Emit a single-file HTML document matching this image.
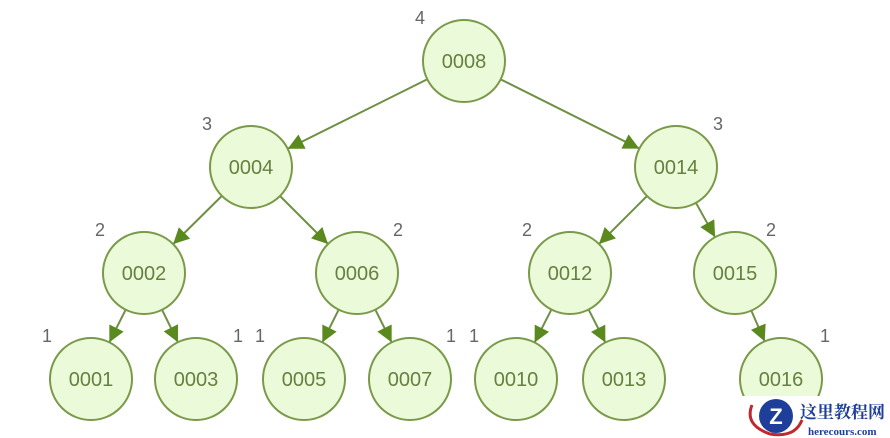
<!DOCTYPE html>
<html><head><meta charset="utf-8"><style>
html,body{margin:0;padding:0;background:#fff;}
svg{display:block;font-family:"Liberation Sans",sans-serif;}
</style></head><body>
<svg id="s" width="890" height="438" viewBox="0 0 890 438" xmlns="http://www.w3.org/2000/svg">
<defs>
<marker id="b" viewBox="0 0 10 10" markerWidth="18" markerHeight="16" refX="10" refY="5" orient="auto" markerUnits="userSpaceOnUse"><path d="M0,0 L10,5 L0,10 Z" fill="#5a8a1e"/></marker></defs>
<g id="g"></g>
</svg>
<script>
var N={"0008":[464,61],"0004":[251,167],"0014":[676,167],"0002":[144,273],"0006":[357,273],"0012":[570,273],"0015":[735,273],
"0001":[91,379],"0003":[196,379],"0005":[304,379],"0007":[410,379],"0010":[516,379],"0013":[624,379],"0016":[781,379]};
var E=[["0008","0004"],["0008","0014"],["0004","0002"],["0004","0006"],["0014","0012"],["0014","0015"],["0002","0001"],["0002","0003"],["0006","0005"],["0006","0007"],["0012","0010"],["0012","0013"],["0015","0016"]];
var L=[["4",420,24],["3",207,130],["3",718,130],["2",100,236],["2",398,236],["2",527,236],["2",771,236],["1",47,342],["1",238,342],["1",260,342],["1",451,342],["1",474,342],["1",825,342]];
var R=41,h="";
E.forEach(function(e){var p=N[e[0]],c=N[e[1]],dx=c[0]-p[0],dy=c[1]-p[1],d=Math.hypot(dx,dy),ux=dx/d,uy=dy/d;
h+='<line x1="'+(p[0]+ux*R)+'" y1="'+(p[1]+uy*R)+'" x2="'+(c[0]-ux*R)+'" y2="'+(c[1]-uy*R)+'" stroke="#6f8f45" stroke-width="2" marker-end="url(#b)"/>';});
for(var k in N){var p=N[k];h+='<circle cx="'+p[0]+'" cy="'+p[1]+'" r="'+R+'" fill="#ebfbd9" stroke="#7a9a4a" stroke-width="2"/><text x="'+p[0]+'" y="'+(p[1]+7)+'" font-size="20" fill="#66803f" text-anchor="middle">'+k+'</text>';}
L.forEach(function(l){h+='<text x="'+l[1]+'" y="'+l[2]+'" font-size="18" fill="#666" text-anchor="middle">'+l[0]+'</text>';});
h+='<rect x="742" y="396" width="148" height="42" fill="#fff"/><circle cx="776" cy="416" r="17" fill="#1f3e9a"/><path d="M752,405 Q744,425 770,434 Q795,438 802,420" fill="none" stroke="#c0282d" stroke-width="3"/><text x="776" y="424" font-size="22" font-weight="bold" fill="#fff" text-anchor="middle">Z</text>';
h+='<text x="800" y="418" font-size="17" font-weight="bold" fill="#1f3e9a" font-family="Noto Serif CJK SC,serif">这里教程网</text><text x="808" y="435" font-size="11" font-weight="bold" fill="#1f3e9a" font-family="Liberation Serif,serif">herecours.com</text>';
document.getElementById("g").innerHTML=h;
</script>
</body></html>
